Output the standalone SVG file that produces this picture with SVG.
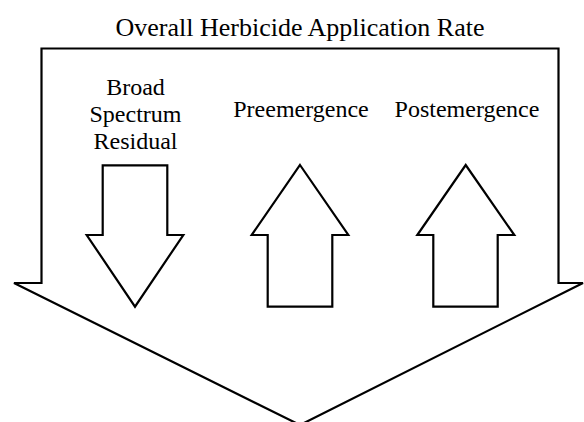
<svg xmlns="http://www.w3.org/2000/svg" width="584" height="422" viewBox="0 0 584 422">
<style>
.shape{fill:#fff;stroke:#000;stroke-width:2.2;stroke-linejoin:miter}
.t{font-family:"Liberation Serif","Times New Roman",serif;font-size:24px;fill:#000;text-anchor:middle}
.title{font-size:26px}
</style>
<rect width="584" height="422" fill="#fff"/>
<g id="overall">
<polygon class="shape" points="41.5,48.5 558.5,48.5 558.5,283 583,283 300,425 14,283 41.5,283"/>
<text class="t title" x="300" y="36">Overall Herbicide Application Rate</text>
</g>
<g id="broad">
<polygon class="shape" points="102.7,165.3 167.3,165.3 167.3,235 183.3,235 135,306.7 86.7,235 102.7,235"/>
<text class="t" x="135.5" y="95">Broad</text>
<text class="t" x="135.5" y="122">Spectrum</text>
<text class="t" x="135.5" y="149">Residual</text>
</g>
<g id="pre">
<polygon class="shape" points="300,165 348.3,235 332.3,235 332.3,306.7 267.7,306.7 267.7,235 251.7,235"/>
<text class="t" x="301" y="117">Preemergence</text>
</g>
<g id="post">
<polygon class="shape" points="465.7,165 514.3,235 497.7,235 497.7,306.7 433.3,306.7 433.3,235 417.3,235"/>
<text class="t" x="467" y="117">Postemergence</text>
</g>
<g id="connectors"/>
</svg>
